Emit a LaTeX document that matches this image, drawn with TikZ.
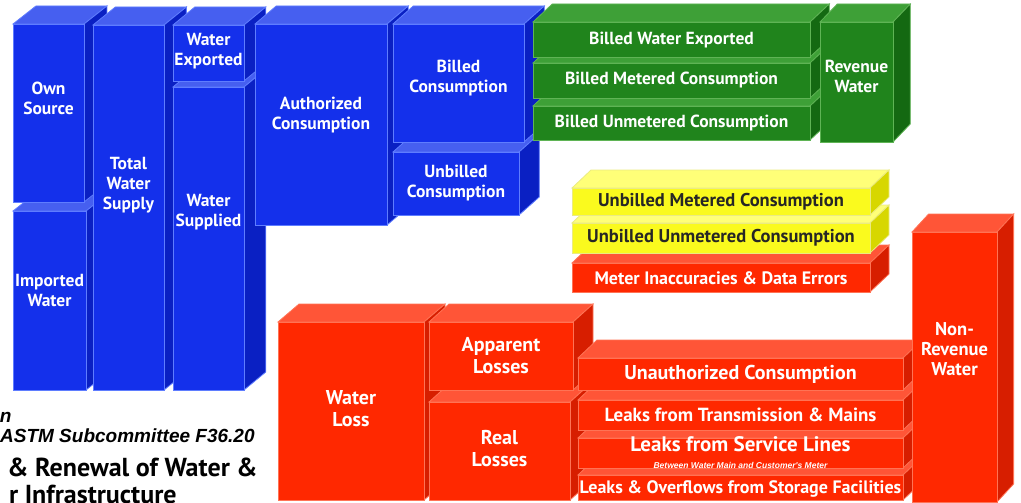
\documentclass[tikz,border=0pt]{standalone}
\usepackage{fontspec}
\setmainfont{PT Sans}
\newfontfamily\slantfont{Liberation Sans}
\definecolor{bluefront}{RGB}{20,48,235}
\definecolor{bluetop}{RGB}{70,95,240}
\definecolor{blueside}{RGB}{10,32,195}
\definecolor{blueedge}{RGB}{95,125,255}
\definecolor{greenfront}{RGB}{32,132,28}
\definecolor{greentop}{RGB}{62,160,55}
\definecolor{greenside}{RGB}{20,105,18}
\definecolor{greenedge}{RGB}{95,180,85}
\definecolor{redfront}{RGB}{255,40,0}
\definecolor{redtop}{RGB}{255,85,55}
\definecolor{redside}{RGB}{215,30,0}
\definecolor{rededge}{RGB}{255,115,85}
\definecolor{yellowfront}{RGB}{250,250,30}
\definecolor{yellowtop}{RGB}{255,255,120}
\definecolor{yellowside}{RGB}{215,215,0}
\definecolor{yellowedge}{RGB}{235,235,130}
% name, x1, y1, x2, y2, colour, text y, node options, text
\newcommand{\block}[9]{%
  \pgfmathsetmacro\dx{23-0.007*#2}
  \filldraw[#6 top] (#2,#3) -- (#2+\dx,#3-18) -- (#4+\dx,#3-18) -- (#4,#3) -- cycle;
  \filldraw[#6 side] (#4,#3) -- (#4+\dx,#3-18) -- (#4+\dx,#5-18) -- (#4,#5) -- cycle;
  \filldraw[#6 front] (#2,#3) rectangle (#4,#5);
  \node[#6 text,#8] (#1) at ({(#2+#4)/2},#7) {#9};
}
\begin{document}
\begin{tikzpicture}[x=1pt, y=-1pt, line width=0.8pt,
  blue top/.style={fill=bluetop,draw=blueedge},
  blue side/.style={fill=blueside,draw=blueedge},
  blue front/.style={fill=bluefront,draw=blueedge},
  green top/.style={fill=greentop,draw=greenedge},
  green side/.style={fill=greenside,draw=greenedge},
  green front/.style={fill=greenfront,draw=greenedge},
  red top/.style={fill=redtop,draw=rededge},
  red side/.style={fill=redside,draw=rededge},
  red front/.style={fill=redfront,draw=rededge},
  yellow top/.style={fill=yellowtop,draw=yellowedge},
  yellow side/.style={fill=yellowside,draw=yellowedge},
  yellow front/.style={fill=yellowfront,draw=yellowedge},
  label text/.style={align=center,inner sep=0pt,font=\bfseries\fontsize{17.5}{20}\selectfont},
  blue text/.style={label text,text=white},
  green text/.style={label text,text=white},
  red text/.style={label text,text=white},
  yellow text/.style={label text,text=black!85,font=\bfseries\fontsize{18.5}{20}\selectfont},
  big/.style={font=\bfseries\fontsize{20}{22}\selectfont},
  note text/.style={inner sep=0pt,font=\slantfont\bfseries\itshape\fontsize{19}{20}\selectfont}]
\useasboundingbox (0,0) rectangle (1021,503);
\clip (0,0) rectangle (1021,503);

% supply side
\block{imported}{13}{211}{86}{390}{blue}{290}{}{Imported\\Water}
\block{ownsource}{13}{24}{84}{202}{blue}{98}{}{Own\\Source}
\block{totalsupply}{93}{25}{164}{390}{blue}{185}{}{Total\\Water\\Supply}
\block{supplied}{173}{87}{244}{390}{blue}{212}{}{Water\\Supplied}
\block{exported}{173}{25}{244}{81}{blue}{51}{}{Water\\Exported}
\block{authorized}{255}{24}{387}{225}{blue}{115}{}{Authorized\\Consumption}
\block{unbilled}{393}{152}{519}{215}{blue}{183}{}{Unbilled\\Consumption}
\block{billed}{393}{24}{524}{142}{blue}{78}{}{Billed\\Consumption}

% revenue water
\block{billedunmetered}{533}{106}{810}{140}{green}{123}{}{Billed Unmetered Consumption}
\block{billedmetered}{533}{63}{810}{98}{green}{80}{}{Billed Metered Consumption}
\block{billedexported}{533}{22}{810}{57}{green}{40}{}{Billed Water Exported}
\block{revenue}{820}{22}{893}{142}{green}{76}{}{Revenue\\Water}

% unbilled authorized
\block{meterinacc}{572}{263}{870}{292}{red}{278}{font=\bfseries\fontsize{18}{20}\selectfont}{Meter Inaccuracies \& Data Errors}
\block{unbilledunmetered}{572}{223}{870}{253}{yellow}{238}{}{Unbilled Unmetered Consumption}
\block{unbilledmetered}{572}{188}{870}{215}{yellow}{202}{}{Unbilled Metered Consumption}

% losses
\block{waterloss}{278}{322}{424}{500}{red}{409}{big}{Water\\Loss}
\block{real}{429}{402}{570}{500}{red}{449}{big}{Real\\Losses}
\block{apparent}{429}{322}{573}{390}{red}{356}{big}{Apparent\\Losses}
\block{storage}{578}{475}{903}{500}{red}{489}{font=\bfseries\fontsize{18}{20}\selectfont}{Leaks \& Overflows from Storage Facilities}
\block{servicelines}{578}{438}{903}{468}{red}{453}{}{{\fontsize{21}{21}\selectfont Leaks from Service Lines}\\[-3pt]{\fontsize{8.5}{9}\selectfont\slantfont\bfseries\itshape Between Water Main and Customer's Meter}}
\block{transmission}{578}{400}{903}{430}{red}{415}{font=\bfseries\fontsize{19}{20}\selectfont}{Leaks from Transmission \& Mains}
\block{unauthorized}{578}{358}{903}{390}{red}{374}{big}{Unauthorized Consumption}
\block{nonrevenue}{912}{232}{997}{502}{red}{349}{font=\bfseries\fontsize{18.5}{20}\selectfont}{Non-\\Revenue\\Water}

% cut-off caption
\node[note text, anchor=base east] (cap1) at (12,422) {n};
\node[note text, anchor=base east] (cap2) at (255,442) {ASTM Subcommittee F36.20};
\node[inner sep=0pt, anchor=base east, font=\bfseries\fontsize{26}{28}\selectfont] (cap3) at (258,476) {\& Renewal of Water \&};
\node[inner sep=0pt, anchor=base east, font=\bfseries\fontsize{26}{28}\selectfont] (cap4) at (177,503) {r Infrastructure};
\end{tikzpicture}
\end{document}
